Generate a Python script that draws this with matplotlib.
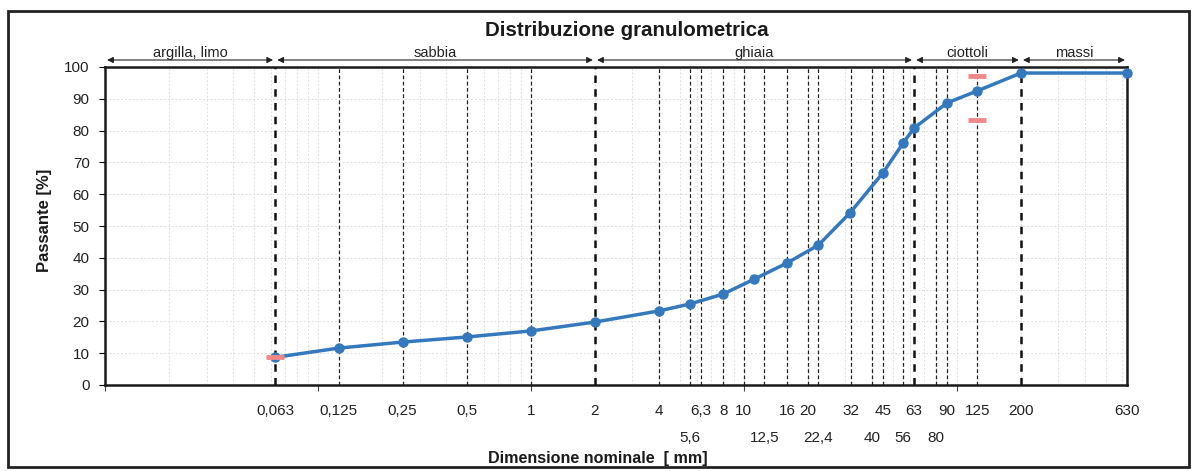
"""
Curva granulometrica: passante [%] in funzione della dimensione nominale [mm].
Salva la figura in out.png.
"""

import numpy as np
import matplotlib
matplotlib.use('Agg')
import matplotlib.pyplot as plt
from matplotlib.patches import Rectangle
from matplotlib.ticker import FixedLocator, FixedFormatter, NullLocator

plt.rcParams['font.family'] = ['Liberation Sans', 'DejaVu Sans']

# --- dati ---
sizes = [0.063, 0.125, 0.25, 0.5, 1, 2, 4, 5.6, 8, 11.2, 16, 22.4, 31.5,
         45, 56, 63, 90, 125, 200, 630]
passing = [8.7, 11.6, 13.5, 15.1, 17.0, 19.8, 23.3, 25.5, 28.6, 33.3, 38.4,
           44.0, 54.1, 66.7, 76.1, 80.8, 88.7, 92.5, 98.1, 98.1]

# limiti (trattini rosa)
limit_sizes = [0.063, 125, 125]
limit_values = [8.7, 97.2, 83.3]

# setacci (linee tratteggiate verticali)
sieves = [0.063, 0.125, 0.25, 0.5, 1, 2, 4, 5.6, 6.3, 8, 10, 12.5, 16, 20,
          22.4, 32, 40, 45, 56, 63, 80, 90, 125, 200]
boundaries = [0.063, 2, 63, 200]

labels_row1 = [0.063, 0.125, 0.25, 0.5, 1, 2, 4, 6.3, 8, 10, 16, 20, 32,
               45, 63, 90, 125, 200, 630]
labels_row2 = [5.6, 12.5, 22.4, 40, 56, 80]

classes = ['argilla, limo', 'sabbia', 'ghiaia', 'ciottoli', 'massi']
class_edges = [0.01, 0.063, 2, 63, 200, 630]

y_ticks = list(range(0, 101, 10))


def fmt(v):
    """Numero con la virgola decimale."""
    return f'{v:g}'.replace('.', ',')


W, H = 1192, 471
fig = plt.figure(figsize=(W / 100, H / 100), dpi=100)
fig.patches.append(Rectangle((8 / W, 4 / H), 1181 / W, 456 / H, transform=fig.transFigure,
                             fill=False, edgecolor='#222222', lw=2))

ax = fig.add_axes([105 / W, 1 - 385 / H, (1127 - 105) / W, (385 - 67) / H])
ax.set_xscale('log')
ax.set_xlim(0.01, 630)
ax.set_ylim(0, 100)

# griglia leggera
grid_x = [m * 10.0 ** e for e in range(-2, 3) for m in range(1, 10)]
ax.vlines(grid_x, 0, 100, colors='#dedede', linestyles=(0, (2, 2)), lw=0.7, zorder=0)
ax.hlines(y_ticks[1:-1], 0.01, 630, colors='#dedede', linestyles=(0, (2, 2)), lw=0.7, zorder=0)

# setacci
thin = [s for s in sieves if s not in boundaries]
ax.vlines(thin, 0, 100, colors='#222222', linestyles=(0, (3, 2)), lw=0.9, zorder=1)
ax.vlines(boundaries, 0, 100, colors='#111111', linestyles=(0, (3, 2.5)), lw=1.8, zorder=1)

# curva
ax.plot(sizes, passing, color='#3478bd', lw=2.5, marker='o', ms=6.5, zorder=3, clip_on=False)
ax.plot(limit_sizes, limit_values, ls='none', marker='_', ms=13, mew=3.5,
        color='#f08a8a', zorder=4, clip_on=False)

# assi
for sp in ax.spines.values():
    sp.set_linewidth(1.8)
    sp.set_color('#1a1a1a')

ax.xaxis.set_major_locator(FixedLocator(labels_row1))
ax.xaxis.set_major_formatter(FixedFormatter([fmt(v) for v in labels_row1]))
ax.xaxis.set_minor_locator(FixedLocator(labels_row2))
ax.xaxis.set_minor_formatter(FixedFormatter([fmt(v) for v in labels_row2]))
ax.tick_params(axis='x', which='major', length=0, pad=14, labelsize=11, labelcolor='#222222')
ax.tick_params(axis='x', which='minor', length=0, pad=33, labelsize=11, labelcolor='#222222')

sec = ax.secondary_xaxis('bottom')
sec.set_xticks([0.01, 0.1, 1, 10, 100])
sec.set_xticklabels([])
sec.xaxis.set_minor_locator(NullLocator())
sec.tick_params(length=4, width=0.8, color='#444444')
sec.spines['bottom'].set_visible(False)

ax.set_yticks(y_ticks)
ax.tick_params(axis='y', length=4, width=0.8, pad=7, labelsize=11, labelcolor='#222222')

# classi granulometriche
for name, x0, x1 in zip(classes, class_edges[:-1], class_edges[1:]):
    ax.annotate('', xy=(x1, 1.022), xytext=(x0, 1.022), xycoords=('data', 'axes fraction'),
                arrowprops=dict(arrowstyle='<|-|>', color='#222222', lw=0.8,
                                mutation_scale=9, shrinkA=1.5, shrinkB=1.5))
    ax.text(np.sqrt(x0 * x1), 1.033, name, transform=ax.get_xaxis_transform(),
            ha='center', va='baseline', fontsize=10.5, color='#222222')

fig.text(627 / W, 1 - 36 / H, 'Distribuzione granulometrica', ha='center', va='baseline',
         fontsize=14.8, fontweight='bold', color='#1a1a1a')
fig.text(44 / W, 1 - 220 / H, 'Passante [%]', rotation=90, ha='center', va='center',
         fontsize=12, fontweight='bold', color='#1a1a1a')
fig.text(598 / W, 1 - 459 / H, 'Dimensione nominale  [ mm]', ha='center', va='center',
         fontsize=11.6, fontweight='bold', color='#1a1a1a')

fig.savefig('out.png', dpi=100)
